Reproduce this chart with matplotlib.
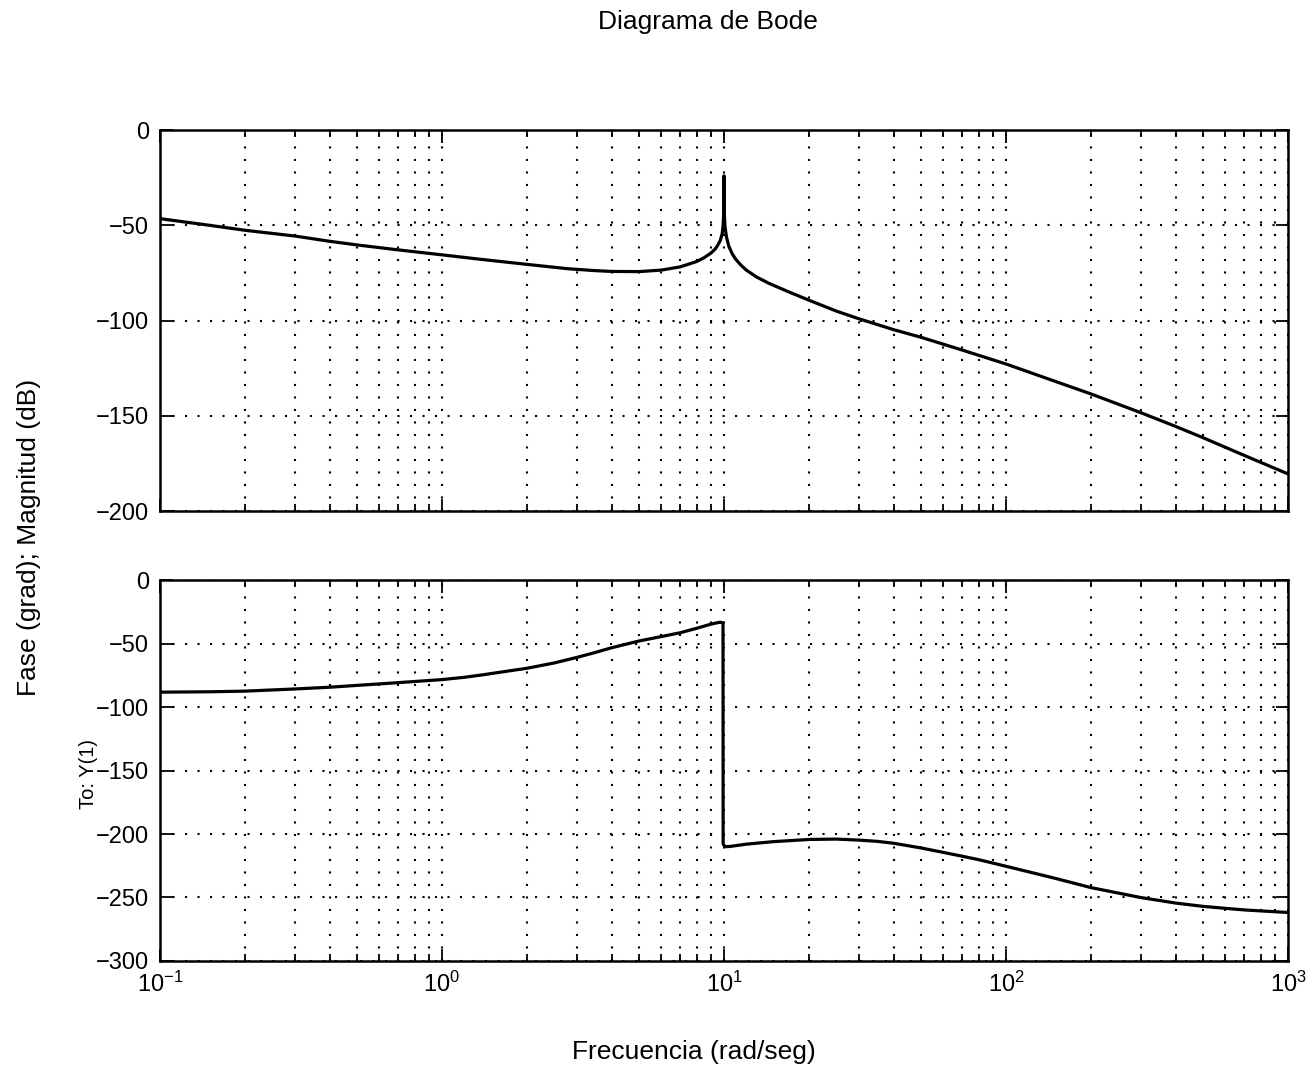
import numpy as np
import matplotlib
matplotlib.use("Agg")
import matplotlib.pyplot as plt
from matplotlib.ticker import LogLocator, NullFormatter, FixedLocator

plt.rcParams['font.family'] = ['Liberation Sans', 'DejaVu Sans']
plt.rcParams['mathtext.fontset'] = 'custom'
plt.rcParams['mathtext.rm'] = 'Liberation Sans'

# magnitude curve (rad/seg, dB)
mag_w = [0.1, 0.15, 0.2, 0.3, 0.4, 0.5, 0.7, 1.0, 1.4, 2.0, 2.8, 3.5, 4.0, 5.0,
         6.0, 7.0, 8.0, 8.5, 9.0, 9.3, 9.5, 9.7, 9.85, 9.93, 9.97, 9.99, 10.0,
         10.01, 10.03, 10.08, 10.2, 10.4, 10.7, 11.0, 11.5, 12.0, 13.0, 14.4,
         17, 20, 25, 30, 40, 50, 70, 100, 150, 200, 300, 400, 500, 700, 1000]
mag_db = [-46.5, -50.0, -52.6, -55.6, -58.4, -60.3, -62.9, -65.5, -68.0, -70.5,
          -72.8, -73.8, -74.2, -74.3, -73.5, -71.8, -69.0, -67.0, -64.5, -62.5,
          -60.5, -58.0, -54.5, -50.0, -44.0, -36.0, -24.0, -36.0, -44.0, -50.5,
          -56.0, -61.0, -65.0, -67.8, -71.0, -73.5, -77.0, -80.4, -85.0, -89.3,
          -95.0, -99.0, -104.8, -108.8, -115.5, -122.8, -132.0, -138.5, -148.3,
          -155.6, -161.5, -170.8, -180.5]

# phase curve (rad/seg, grad)
ph_w = [0.1, 0.15, 0.2, 0.3, 0.4, 0.6, 0.7, 1.0, 1.2, 1.4, 1.7, 2.0, 2.5, 3.0,
        3.5, 4.0, 4.5, 5.0, 6.0, 7.0, 8.0, 8.9, 9.3, 9.7, 9.92, 9.93, 10.1,
        10.5, 12, 15, 20, 25, 30, 35, 40, 50, 60, 70, 80, 100, 150, 200, 300,
        400, 500, 700, 1000]
ph_deg = [-88.3, -88.0, -87.5, -85.8, -84.4, -81.8, -80.8, -78.4, -76.6, -74.6,
          -71.8, -69.5, -65.3, -61.0, -57.0, -53.3, -50.5, -48.0, -44.5, -41.5,
          -38.0, -35.0, -34.0, -33.2, -33.8, -208.0, -210.0, -209.8, -208.0,
          -206.0, -204.3, -204.0, -204.8, -205.8, -207.3, -211.0, -214.5,
          -217.5, -220.2, -225.4, -235.0, -242.2, -250.0, -254.4, -257.0,
          -259.8, -261.8]

mag_yticks = [0, -50, -100, -150, -200]
ph_yticks = [0, -50, -100, -150, -200, -250, -300]

fig = plt.figure(figsize=(13.16, 10.68), dpi=100)
ax1 = fig.add_axes([0.1216, 0.5215, 0.8571, 0.3567])
ax2 = fig.add_axes([0.1216, 0.1002, 0.8571, 0.3567])

grid_style = dict(color='black', linestyle=(0, (1, 5)), linewidth=1.5)

for ax, w, v, yt in [(ax1, mag_w, mag_db, mag_yticks), (ax2, ph_w, ph_deg, ph_yticks)]:
    ax.plot(w, v, color='black', linewidth=2.3, zorder=3)
    ax.set_xscale('log')
    ax.set_xlim(0.1, 1000)
    ax.set_ylim(min(yt), max(yt))
    ax.yaxis.set_major_locator(FixedLocator(yt))
    ax.xaxis.set_major_locator(LogLocator(base=10, numticks=10))
    ax.xaxis.set_minor_locator(LogLocator(base=10, subs=np.arange(2, 10), numticks=20))
    ax.xaxis.set_minor_formatter(NullFormatter())
    ax.grid(True, which='major', axis='both', **grid_style)
    ax.grid(True, which='minor', axis='x', **grid_style)
    ax.tick_params(which='both', direction='in', top=True, right=True,
                   labelsize=17, pad=8, width=1.3)
    ax.tick_params(which='major', length=9)
    ax.tick_params(which='minor', length=5)
    for s in ax.spines.values():
        s.set_linewidth(1.8)

ax1.xaxis.set_major_formatter(NullFormatter())

fig.text(0.538, 1 - 22 / 1068, 'Diagrama de Bode', ha='center', va='center', fontsize=19)
fig.text(0.527, 0.015, 'Frecuencia (rad/seg)', ha='center', va='center', fontsize=19)
fig.text(0.022, 0.497, 'Fase (grad); Magnitud (dB)', ha='center', va='center',
         rotation=90, fontsize=19)
fig.text(0.067, 0.275, 'To: Y(1)', ha='center', va='center', rotation=90, fontsize=14.5)

fig.savefig('out.png', dpi=100)
